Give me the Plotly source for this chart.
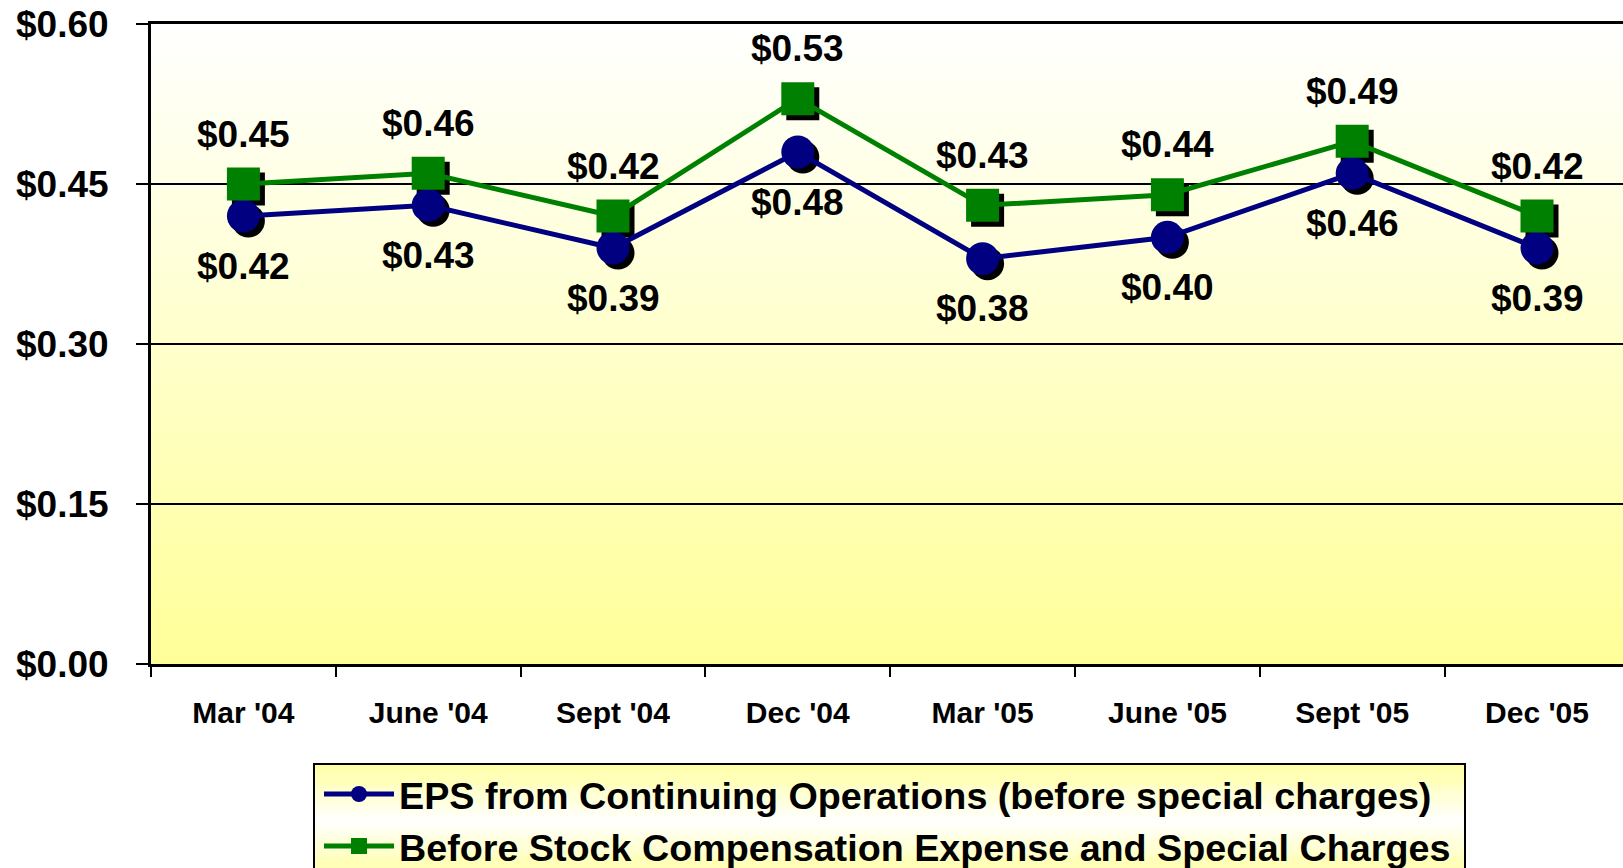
import plotly.graph_objects as go

# ---------------- data ----------------
quarters = ["Mar '04", "June '04", "Sept '04", "Dec '04", "Mar '05", "June '05", "Sept '05", "Dec '05"]
eps_continuing = [0.42, 0.43, 0.39, 0.48, 0.38, 0.40, 0.46, 0.39]
eps_before_stock = [0.45, 0.46, 0.42, 0.53, 0.43, 0.44, 0.49, 0.42]
series_names = [
    "EPS from Continuing Operations (before special charges)",
    "Before Stock Compensation Expense and Special Charges",
]
y_ticks = [0.0, 0.15, 0.30, 0.45, 0.60]

# ---------------- layout constants (pixels) ----------------
W, H = 1623, 868
ML, MR, MT, MB = 151, 0, 24, 204
PLOT_W = W - ML - MR
PLOT_H = H - MT - MB
CAT_W = 184.8                      # px per category
X_RANGE = [-0.5, -0.5 + PLOT_W / CAT_W]
Y_RANGE = [0.0, 0.6]
PX_PER_Y = PLOT_H / (Y_RANGE[1] - Y_RANGE[0])
SHADOW = 5                         # px drop-shadow offset
FONT = "Liberation Sans, Arial, sans-serif"
NAVY = "#000080"
GREEN = "#008000"

xs = list(range(len(quarters)))

fig = go.Figure()

# shadows (drawn on slightly offset overlay axes)
for vals, sym in [(eps_continuing, "circle"), (eps_before_stock, "square")]:
    fig.add_trace(go.Scatter(
        x=xs, y=vals, mode="markers", xaxis="x2", yaxis="y2",
        marker=dict(symbol=sym, size=33, color="black", line=dict(width=0)),
        showlegend=False, hoverinfo="skip"))

# real series
for vals, sym, col, name in [(eps_continuing, "circle", NAVY, series_names[0]),
                             (eps_before_stock, "square", GREEN, series_names[1])]:
    fig.add_trace(go.Scatter(
        x=xs, y=vals, mode="lines+markers", xaxis="x3", yaxis="y3", name=name,
        line=dict(color=col, width=5),
        marker=dict(symbol=sym, size=33, color=col, line=dict(width=0))))

# data labels
annotations = []
for vals, shift in [(eps_before_stock, 50), (eps_continuing, -50)]:
    for x, v in zip(xs, vals):
        annotations.append(dict(
            x=x, y=v, xref="x", yref="y", text=f"${v:.2f}", showarrow=False,
            yshift=shift, font=dict(family=FONT, size=37, color="black", weight="bold")))

# plot-area gradient (white top -> pale yellow bottom)
shapes = []
N = 80
for i in range(N):
    t = (i + 0.5) / N                         # 0 bottom ... 1 top
    b = int(round(0x99 + (0xFF - 0x99) * t))
    shapes.append(dict(type="rect", xref="x domain", yref="y domain",
                       x0=0, x1=1, y0=i / N, y1=(i + 1) / N,
                       fillcolor=f"rgb(255,255,{b})", line=dict(width=0), layer="below"))

# legend box gradient (yellow -> white -> yellow), in paper coordinates
LEG_L, LEG_R, LEG_T, LEG_B = 314, 1465, 764, 878
def px_to_paper_x(px):
    return (px - ML) / PLOT_W
def px_to_paper_y(py):
    return (H - MB - py) / PLOT_H
NL = 60
for i in range(NL):
    t = (i + 0.5) / NL
    d = abs(t - 0.5) * 2                       # 1 at edges, 0 at middle
    b = int(round(0xFF - (0xFF - 0x99) * d))
    y_top = LEG_T + (LEG_B - LEG_T) * i / NL
    y_bot = LEG_T + (LEG_B - LEG_T) * (i + 1) / NL
    shapes.append(dict(type="rect", xref="paper", yref="paper",
                       x0=px_to_paper_x(LEG_L), x1=px_to_paper_x(LEG_R),
                       y0=px_to_paper_y(y_bot), y1=px_to_paper_y(y_top),
                       fillcolor=f"rgb(255,255,{b})", line=dict(width=0), layer="below"))
shapes.append(dict(type="rect", xref="paper", yref="paper",
                   x0=px_to_paper_x(LEG_L), x1=px_to_paper_x(LEG_R),
                   y0=px_to_paper_y(LEG_B), y1=px_to_paper_y(LEG_T),
                   line=dict(color="black", width=2), fillcolor="rgba(0,0,0,0)", layer="below"))

dx = SHADOW / CAT_W
dy = SHADOW / PX_PER_Y

fig.update_layout(
    width=W, height=H,
    margin=dict(l=ML, r=MR, t=MT, b=MB, pad=0, autoexpand=False),
    paper_bgcolor="white", plot_bgcolor="rgba(0,0,0,0)",
    font=dict(family=FONT, color="black"),
    xaxis=dict(range=X_RANGE, tickmode="array", tickvals=xs, ticktext=quarters,
               ticks="", showgrid=False, zeroline=False, automargin=False,
               showline=True, linecolor="black", linewidth=3, mirror=True,
               tickfont=dict(family=FONT, size=30, weight="bold"),
               ticklabelstandoff=20,
               minor=dict(tick0=-0.5, dtick=1, ticks="outside", ticklen=10,
                          tickwidth=2, tickcolor="black", showgrid=False)),
    yaxis=dict(range=Y_RANGE, tickmode="array", tickvals=y_ticks,
               ticktext=[f"${v:.2f}" for v in y_ticks],
               ticks="outside", ticklen=12, tickwidth=2, tickcolor="black",
               showgrid=True, gridcolor="black", gridwidth=1.5, zeroline=False,
               showline=True, linecolor="black", linewidth=3, automargin=False,
               tickfont=dict(family=FONT, size=37, weight="bold"),
               ticklabelstandoff=20),
    xaxis2=dict(overlaying="x", range=[X_RANGE[0] - dx, X_RANGE[1] - dx], visible=False),
    yaxis2=dict(overlaying="y", range=[Y_RANGE[0] + dy, Y_RANGE[1] + dy], visible=False),
    xaxis3=dict(overlaying="x", range=X_RANGE, visible=False),
    yaxis3=dict(overlaying="y", range=Y_RANGE, visible=False),
    legend=dict(x=px_to_paper_x(LEG_L + 5), y=px_to_paper_y(LEG_T - 1),
                xanchor="left", yanchor="top", bgcolor="rgba(0,0,0,0)",
                borderwidth=0, font=dict(family=FONT, size=37.7, weight="bold"),
                itemwidth=70, tracegroupgap=0),
    annotations=annotations,
    shapes=shapes,
    showlegend=True,
)

fig.write_html("out.html",
               config={"displayModeBar": False},
               post_script="document.body.style.margin='0';document.body.style.overflow='hidden';")
